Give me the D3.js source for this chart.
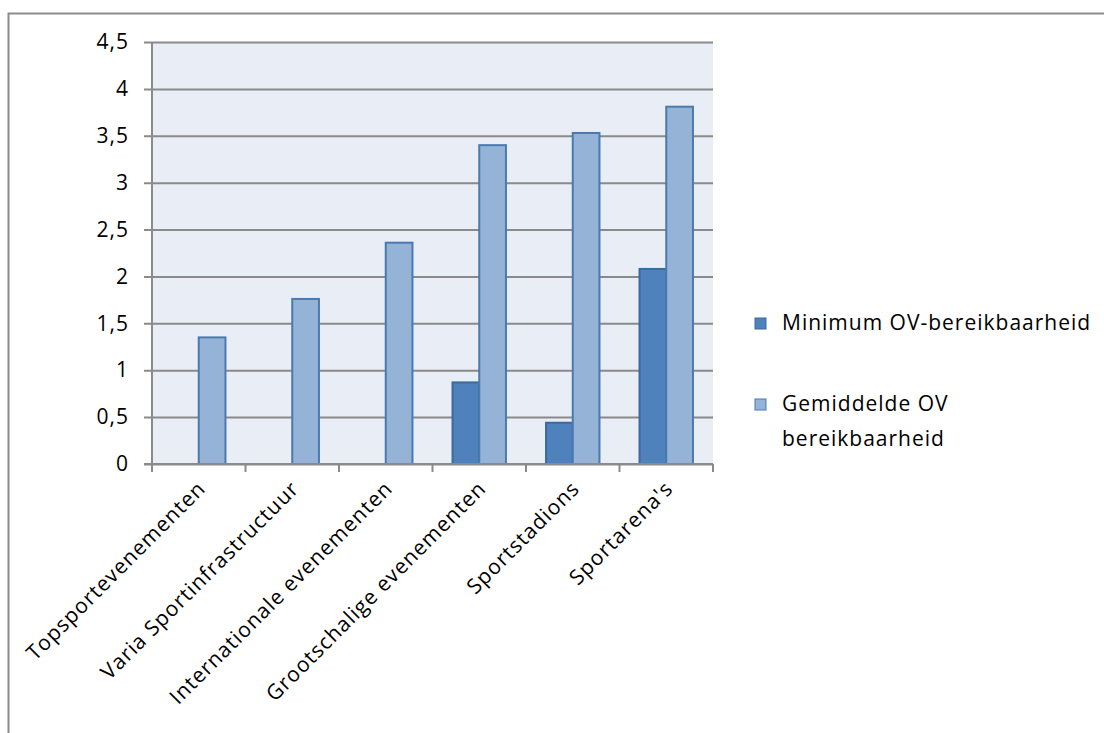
<!DOCTYPE html>
<html>
<head>
<meta charset="utf-8">
<script src="https://cdn.jsdelivr.net/npm/d3@7"></script>
<style>
  body { margin: 0; background: #fff; }
  text { font-family: "Open Sans", Lato, sans-serif; fill: #000; letter-spacing: 1px; }
</style>
</head>
<body>
<div id="chart"></div>
<script>
const categories = ['Topsportevenementen', 'Varia Sportinfrastructuur', 'Internationale evenementen',
                    'Grootschalige evenementen', 'Sportstadions', "Sportarena's"];
const minimumOV = [null, null, null, 0.87, 0.44, 2.08];
const gemiddeldeOV = [1.35, 1.76, 2.36, 3.40, 3.53, 3.81];
const yTicks = [0, 0.5, 1, 1.5, 2, 2.5, 3, 3.5, 4, 4.5];
const seriesNames = ['Minimum OV-bereikbaarheid', ['Gemiddelde OV', 'bereikbaarheid']];

const W = 1104, H = 733;
const m = {left: 152, right: 391, top: 42, bottom: 269};

const svg = d3.select('#chart').append('svg')
  .attr('width', W).attr('height', H);

// outer chart border (top + left only visible)
svg.append('path')
  .attr('d', 'M8.5,' + H + 'V13.5H' + W)
  .attr('fill', 'none').attr('stroke', '#8c8c8c').attr('stroke-width', 2);

const x = d3.scaleBand().domain(categories).range([m.left, W - m.right]);
const y = d3.scaleLinear().domain([0, 4.5]).range([H - m.bottom, m.top]);

svg.append('rect')
  .attr('x', m.left).attr('y', m.top)
  .attr('width', W - m.right - m.left).attr('height', H - m.bottom - m.top)
  .attr('fill', '#e9edf5');

// gridlines + y ticks
const yAxis = d3.axisLeft(y).tickValues(yTicks)
  .tickSize(-(W - m.right - m.left))
  .tickFormat(d => String(d).replace('.', ','));

const gy = svg.append('g').attr('transform', 'translate(' + m.left + ',0)').call(yAxis);
gy.select('.domain').remove();
gy.selectAll('.tick line').attr('x1', -8).attr('stroke', '#8a8a8a').attr('stroke-width', 2);
gy.selectAll('.tick text').attr('x', -23).attr('font-size', 21).attr('font-family', null);

const bw = x.bandwidth() / 3.5;

const barsMin = categories.map((c, i) => ({c, v: minimumOV[i]})).filter(d => d.v != null);
const barsAvg = categories.map((c, i) => ({c, v: gemiddeldeOV[i]}));

svg.selectAll('rect.min').data(barsMin).enter().append('rect')
  .attr('class', 'min')
  .attr('x', d => x(d.c) + 0.75 * bw)
  .attr('y', d => y(d.v))
  .attr('width', bw).attr('height', d => y(0) - y(d.v))
  .attr('fill', '#4f81bd').attr('stroke', '#3c6a9c').attr('stroke-width', 2);

svg.selectAll('rect.avg').data(barsAvg).enter().append('rect')
  .attr('class', 'avg')
  .attr('x', d => x(d.c) + 1.75 * bw)
  .attr('y', d => y(d.v))
  .attr('width', bw).attr('height', d => y(0) - y(d.v))
  .attr('fill', '#95b3d7').attr('stroke', '#4a7ab0').attr('stroke-width', 2);

// y axis line
svg.append('line')
  .attr('x1', m.left).attr('x2', m.left).attr('y1', m.top).attr('y2', y(0))
  .attr('stroke', '#8a8a8a').attr('stroke-width', 2);

// x axis
const xEdges = categories.map(c => x(c)).concat([W - m.right]);
svg.append('line')
  .attr('x1', m.left - 8).attr('x2', W - m.right).attr('y1', y(0)).attr('y2', y(0))
  .attr('stroke', '#8a8a8a').attr('stroke-width', 2);
svg.selectAll('line.xt').data(xEdges).enter().append('line')
  .attr('x1', d => d).attr('x2', d => d).attr('y1', y(0)).attr('y2', y(0) + 8)
  .attr('stroke', '#8a8a8a').attr('stroke-width', 2);

svg.selectAll('text.xl').data(categories).enter().append('text')
  .attr('text-anchor', 'end')
  .attr('font-size', 21)
  .attr('transform', d => 'translate(' + (x(d) + x.bandwidth() / 2 + 8) + ',' + (y(0) + 26) + ') rotate(-45)')
  .text(d => d);

// legend
const colors = ['#4f81bd', '#95b3d7'];
const strokes = ['#3c6a9c', '#4a7ab0'];
const legY = [323, 404];
seriesNames.forEach((name, i) => {
  const g = svg.append('g').attr('transform', 'translate(755,' + legY[i] + ')');
  g.append('rect').attr('x', 0).attr('y', -5).attr('width', 11).attr('height', 11)
    .attr('fill', colors[i]).attr('stroke', strokes[i]).attr('stroke-width', 1);
  const lines = Array.isArray(name) ? name : [name];
  lines.forEach((l, j) => {
    g.append('text').attr('x', 27).attr('y', j * 35).attr('dy', '0.35em')
      .attr('font-size', 21).text(l);
  });
});
</script>
</body>
</html>
